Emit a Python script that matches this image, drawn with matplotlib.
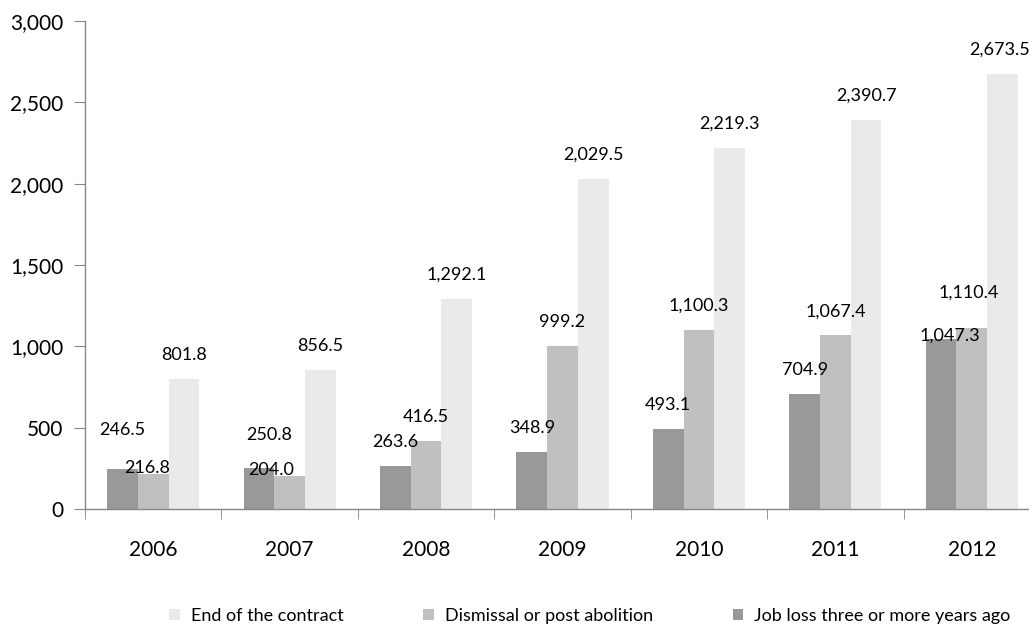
import numpy as np
import matplotlib
matplotlib.use("Agg")
import matplotlib.pyplot as plt
from matplotlib.ticker import FuncFormatter, MultipleLocator, FixedLocator

plt.rcParams['font.family'] = ['Lato', 'DejaVu Sans']

years = ['2006', '2007', '2008', '2009', '2010', '2011', '2012']
job_loss = [246.5, 250.8, 263.6, 348.9, 493.1, 704.9, 1047.3]
dismissal = [216.8, 204.0, 416.5, 999.2, 1100.3, 1067.4, 1110.4]
end_contract = [801.8, 856.5, 1292.1, 2029.5, 2219.3, 2390.7, 2673.5]

series = [
    ('Job loss three or more years ago', job_loss, '#999999'),
    ('Dismissal or post abolition', dismissal, '#c0c0c0'),
    ('End of the contract', end_contract, '#eaeaea'),
]

# label nudges in pixels (dx, dy) where labels would collide
nudges = {
    (0, 0): (0, 15), (0, 1): (10, 9), (0, 6): (9, -21),
    (1, 0): (-6, -18), (1, 1): (-19, -18), (1, 6): (-3, 12),
    (2, 6): (-3, 0),
}

fig = plt.figure(figsize=(10.29, 6.37), dpi=100)
ax = fig.add_axes([85 / 1029, 1 - 509 / 637, 955 / 1029, 488 / 637])

x = np.arange(len(years))
w = 0.225
handles = []
for i, (name, vals, col) in enumerate(series):
    pos = x + (i - 1) * w
    b = ax.bar(pos, vals, width=w, color=col, label=name, zorder=2)
    handles.append(b)
    for j, v in enumerate(vals):
        dx, dy = nudges.get((i, j), (0, 0))
        ax.annotate(f'{v:,.1f}', (pos[j], v), xytext=(dx, 24 + dy),
                    textcoords='offset pixels', ha='center', va='center',
                    fontsize=13, color='black', annotation_clip=False)

ax.set_xlim(-0.5, len(years) - 0.5)
ax.set_ylim(0, 3000)
ax.yaxis.set_major_locator(MultipleLocator(500))
ax.yaxis.set_major_formatter(FuncFormatter(lambda v, p: f'{v:,.0f}'))

ax.set_xticks(x)
ax.set_xticklabels(years)
ax.xaxis.set_minor_locator(FixedLocator(np.arange(-0.5, len(years), 1.0)))
ax.tick_params(axis='x', which='major', length=0, pad=22, labelsize=15)
ax.tick_params(axis='x', which='minor', length=7, color='#868686', direction='out')
ax.tick_params(axis='y', length=8, color='#868686', pad=7.5, labelsize=15)

for s in ['top', 'right']:
    ax.spines[s].set_visible(False)
for s in ['left', 'bottom']:
    ax.spines[s].set_color('#868686')
    ax.spines[s].set_linewidth(1)

fig.legend(handles[::-1], [h.get_label() for h in handles[::-1]],
           loc='center', bbox_to_anchor=(590 / 1029, 1 - 616 / 637), ncol=3,
           frameon=False, fontsize=13, handlelength=0.6, handleheight=0.6,
           handletextpad=0.6, columnspacing=4.4)

fig.savefig('out.png', dpi=100)
